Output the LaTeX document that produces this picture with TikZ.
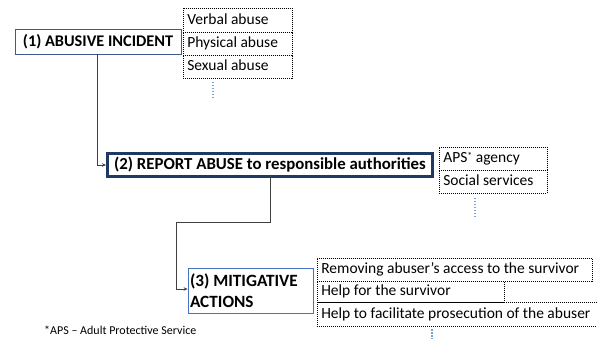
\documentclass[tikz,border=0pt]{standalone}
\usepackage{fontspec}
\setmainfont{Carlito}
\usetikzlibrary{arrows.meta}
\definecolor{navy}{HTML}{1F3864}
\definecolor{stepblue}{HTML}{3D5A8C}
\definecolor{lightstep}{HTML}{4472C4}
\definecolor{hintblue}{HTML}{7F9FD8}
\definecolor{linkgray}{HTML}{404040}
\newcommand{\smallstar}{\raisebox{0.5ex}{\fontsize{10}{10}\selectfont *}}
\begin{document}
\begin{tikzpicture}[x=1pt,y=-1pt,
  stagebox/.style={draw=stepblue,line width=0.8pt,inner sep=0pt,font=\fontsize{16.3}{19}\selectfont\bfseries},
  itembox/.style={draw=black,line width=0.6pt,dash pattern=on 1pt off 1pt,inner xsep=4pt,inner ysep=0pt,
    anchor=north west,text width=#1-8pt,align=flush left,text height=11.5pt,text depth=3.5pt,
    font=\fontsize{15.5}{17}\selectfont},
  hint/.style={draw=hintblue,line width=1.2pt,dash pattern=on 1.5pt off 1.5pt},
  link/.style={draw=linkgray,line width=0.8pt},
  linkarrow/.style={link,-{Stealth[length=4pt,width=3.5pt]}}]
\useasboundingbox (0,0) rectangle (597,339);
\begin{scope}
\clip (0,0) rectangle (597,339);

% stage 1
\node[stagebox,minimum width=166pt,minimum height=25pt] (s1) at (98,41.5) {(1) ABUSIVE INCIDENT};
\node[itembox=109pt,minimum height=24pt] (v1) at (183,8) {Verbal abuse};
\node[itembox=109pt,minimum height=23pt] (v2) at (183,32) {Physical abuse};
\node[itembox=109pt,minimum height=23pt] (v3) at (183,55) {Sexual abuse};
\coordinate (h1a) at (213,82);
\coordinate (h1b) at (213,100);
\draw[hint] (h1a) -- (h1b);

% stage 2
\node[draw=navy,line width=3pt,inner sep=0pt,minimum width=325pt,minimum height=23pt,
  font=\fontsize{16.8}{19}\selectfont\bfseries] (s2) at (270,165) {(2) REPORT ABUSE to responsible authorities};
\node[itembox=108pt,minimum height=23pt] (a1) at (439,147) {APS\smallstar{} agency};
\node[itembox=108pt,minimum height=23pt] (a2) at (439,170) {Social services};
\coordinate (h2a) at (475,198);
\coordinate (h2b) at (475,218);
\draw[hint] (h2a) -- (h2b);

% stage 3
\node[stagebox,draw=lightstep,minimum width=125pt,minimum height=45pt,align=flush left,
  text width=121pt,inner xsep=2pt,font=\fontsize{17.2}{21}\selectfont\bfseries] (s3) at (250.5,290.5) {(3) MITIGATIVE\\ACTIONS};
\node[itembox=275pt,minimum height=23pt] (m1) at (317,258) {Removing abuser’s access to the survivor};
\node[itembox=187pt,minimum height=21pt] (m2) at (317,281) {Help for the survivor};
\node[itembox=300pt,minimum height=24pt] (m3) at (317,302) {Help to facilitate prosecution of the abuser};
\coordinate (h3a) at (432,329);
\coordinate (h3b) at (432,345);
\draw[hint] (h3a) -- (h3b);

% connectors between stages
\draw[linkarrow] (97,54) |- (s2.west);
\draw[linkarrow] (270,176.5) -- (270,222) -| (176,289) -- (s3.west |- 0,289);

% footnote
\node[anchor=west,inner sep=0pt,font=\fontsize{12}{14}\selectfont] (fn) at (44,330) {*APS – Adult Protective Service};
\end{scope}
\end{tikzpicture}
\end{document}
